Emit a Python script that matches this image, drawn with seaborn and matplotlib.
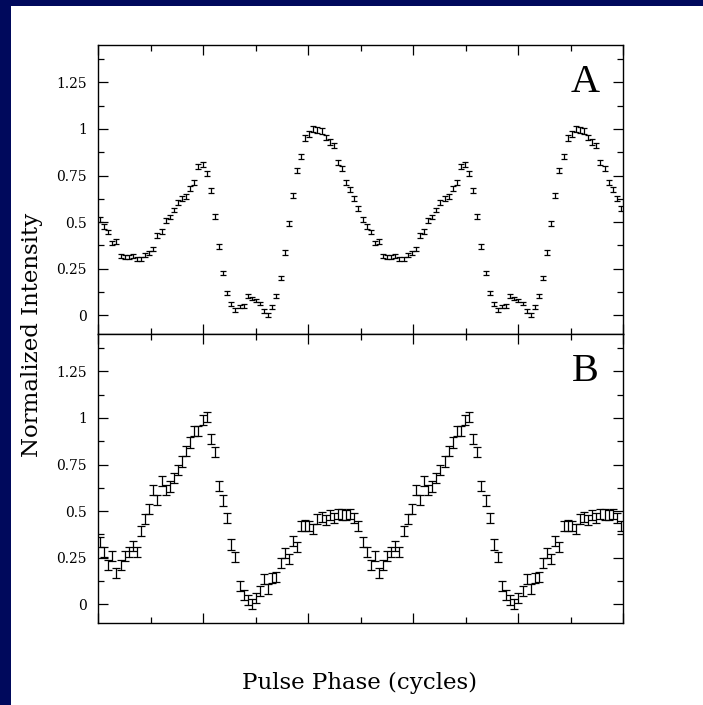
import numpy as np
import pandas as pd
import matplotlib
matplotlib.use("Agg")
import matplotlib.pyplot as plt
from matplotlib.patches import Rectangle
from matplotlib.ticker import MultipleLocator, FuncFormatter
import seaborn as sns

# ---- data (one pulse cycle, 64 phase bins; the profile is shown twice) ----
n_bins = 64
profile_a = [0.513, 0.477, 0.447, 0.388, 0.395, 0.320, 0.314, 0.314, 0.316, 0.304,
             0.304, 0.323, 0.334, 0.356, 0.428, 0.450, 0.509, 0.527, 0.566, 0.607,
             0.625, 0.637, 0.682, 0.714, 0.798, 0.809, 0.763, 0.668, 0.530, 0.370,
             0.225, 0.120, 0.061, 0.030, 0.048, 0.050, 0.102, 0.091, 0.079, 0.063,
             0.025, 0.000, 0.045, 0.105, 0.198, 0.336, 0.493, 0.643, 0.777, 0.852,
             0.950, 0.972, 1.000, 0.993, 0.988, 0.953, 0.930, 0.913, 0.820, 0.789,
             0.714, 0.673, 0.629, 0.575]
err_a = [0.013, 0.013, 0.012, 0.012, 0.012, 0.011, 0.011, 0.011, 0.011, 0.011,
         0.011, 0.011, 0.011, 0.011, 0.012, 0.012, 0.012, 0.012, 0.012, 0.013,
         0.013, 0.013, 0.013, 0.013, 0.014, 0.014, 0.013, 0.013, 0.012, 0.012,
         0.011, 0.010, 0.010, 0.010, 0.010, 0.010, 0.010, 0.010, 0.010, 0.010,
         0.010, 0.010, 0.010, 0.010, 0.011, 0.012, 0.012, 0.013, 0.014, 0.014,
         0.015, 0.015, 0.015, 0.015, 0.015, 0.015, 0.014, 0.014, 0.014, 0.014,
         0.013, 0.013, 0.013, 0.013]

profile_b = [0.334, 0.281, 0.213, 0.257, 0.170, 0.213, 0.259, 0.282, 0.311, 0.279,
             0.393, 0.459, 0.511, 0.611, 0.559, 0.664, 0.611, 0.632, 0.679, 0.721,
             0.766, 0.820, 0.868, 0.930, 0.932, 0.988, 1.004, 0.888, 0.818, 0.636,
             0.557, 0.463, 0.321, 0.254, 0.098, 0.048, 0.021, 0.002, 0.032, 0.072,
             0.134, 0.080, 0.141, 0.148, 0.222, 0.277, 0.243, 0.340, 0.307, 0.420,
             0.423, 0.420, 0.405, 0.459, 0.468, 0.454, 0.479, 0.461, 0.486, 0.482,
             0.477, 0.484, 0.463, 0.420]
err_b = [0.027] * 64

n_cycles = 2
y_ticks = [0, 0.25, 0.5, 0.75, 1, 1.25]
panel_labels = ["A", "B"]
x_label = "Pulse Phase (cycles)"
y_label = "Normalized Intensity"


def build_frame(values, errors):
    phase = (np.arange(n_bins * n_cycles) + 0.5) / n_bins
    vals = np.array(values * n_cycles)
    errs = np.array(errors * n_cycles)
    lo = pd.DataFrame({"phase": phase, "intensity": vals - errs})
    hi = pd.DataFrame({"phase": phase, "intensity": vals + errs})
    return pd.concat([lo, hi], ignore_index=True)


sns.set_theme(style="ticks")
plt.rcParams["font.family"] = ["DejaVu Serif"]

W, H = 703, 705
fig = plt.figure(figsize=(W / 100, H / 100), dpi=100, facecolor="white")

# navy slide border (top and left)
fig.patches.append(Rectangle((0, 1 - 6 / H), 1, 6 / H, transform=fig.transFigure,
                             facecolor="#00095c", edgecolor="none", zorder=0))
fig.patches.append(Rectangle((0, 0), 11 / W, 1, transform=fig.transFigure,
                             facecolor="#00095c", edgecolor="none", zorder=0))

left, right = 98 / W, 623 / W
ax_top = fig.add_axes([left, 1 - 334 / H, right - left, 289 / H])
ax_bot = fig.add_axes([left, 1 - 623 / H, right - left, 289 / H], sharex=ax_top)

panels = [(ax_top, profile_a, err_a, 2.2), (ax_bot, profile_b, err_b, 2.6)]
for (ax, vals, errs, cap), lab in zip(panels, panel_labels):
    df = build_frame(vals, errs)
    sns.lineplot(data=df, x="phase", y="intensity", estimator="mean",
                 errorbar=("pi", 100), err_style="bars", linestyle="",
                 color="black", ax=ax,
                 err_kws=dict(capsize=cap, elinewidth=0.9, capthick=0.9))
    ax.set_facecolor("white")
    ax.set_xlim(0, 2)
    ax.set_ylim(-0.1, 1.45)
    ax.set_xlabel("")
    ax.set_ylabel("")
    ax.xaxis.set_major_locator(MultipleLocator(0.4))
    ax.xaxis.set_minor_locator(MultipleLocator(0.2))
    ax.set_yticks(y_ticks)
    ax.yaxis.set_minor_locator(MultipleLocator(0.125))
    ax.yaxis.set_major_formatter(FuncFormatter(lambda v, p: f"{v:g}"))
    ax.tick_params(axis="both", which="both", direction="in", top=True, right=True,
                   color="black", width=0.9)
    ax.tick_params(axis="x", which="major", length=7, labelbottom=False)
    ax.tick_params(axis="x", which="minor", length=4)
    ax.tick_params(axis="y", which="major", length=7, labelsize=10, pad=8,
                   labelcolor="black")
    ax.tick_params(axis="y", which="minor", length=4.5)
    for s in ax.spines.values():
        s.set_color("black")
        s.set_linewidth(1.0)
    ax.text(0.928, 0.87, lab, transform=ax.transAxes, ha="center", va="center",
            fontsize=29, color="black", family=["Liberation Serif"])

fig.text(32 / W, 1 - 335 / H, y_label, rotation=90, ha="center", va="center",
         fontsize=16.5, color="black")
fig.text(360 / W, 1 - 683 / H, x_label, ha="center", va="center",
         fontsize=16.5, color="black")

fig.savefig("out.png", dpi=100, facecolor="white")
